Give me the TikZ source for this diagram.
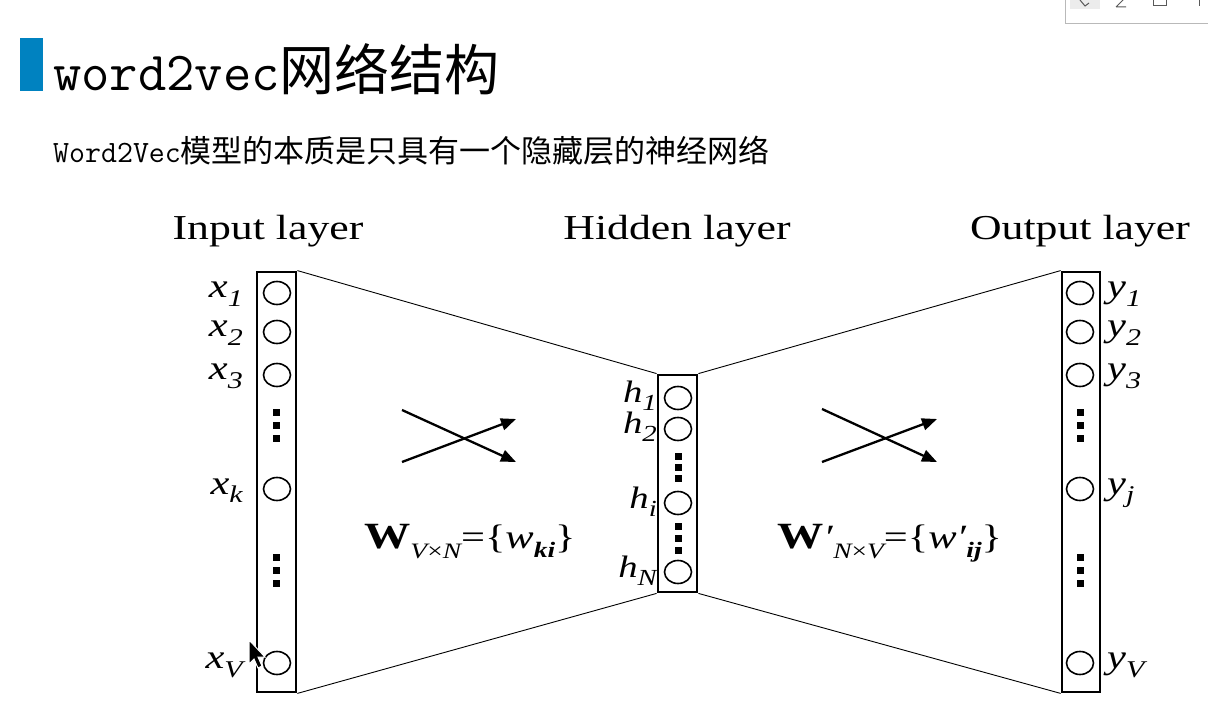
\documentclass[tikz,border=0pt]{standalone}
\usepackage{fontspec}
\setmainfont{Liberation Serif}
\newfontfamily\cjk{Noto Sans CJK SC}
\newfontfamily\tmono{Latin Modern Mono}
\newfontfamily\figf[FakeStretch=1.25]{Liberation Serif}
\usetikzlibrary{shapes.geometric,arrows.meta}
\definecolor{barblue}{RGB}{0,130,192}
\newcommand{\lab}[2]{{\figf\itshape\fontsize{34}{34}\selectfont #1\raisebox{-9pt}{\fontsize{24}{24}\selectfont #2}}}
\newcommand{\hlab}[2]{{\figf\itshape\fontsize{31}{31}\selectfont #1\raisebox{-8pt}{\fontsize{23}{23}\selectfont #2}}}
\tikzset{
  neuron/.style={ellipse,draw,line width=1.6pt,minimum width=27pt,minimum height=23pt,inner sep=0pt},
  layerbox/.style={rectangle,draw,line width=2.8pt,inner sep=0pt},
  sqdot/.style={rectangle,fill=black,minimum size=7pt,inner sep=0pt},
  link/.style={line width=0.9pt},
  wts/.style={line width=2.3pt,-{Triangle[length=15pt,width=12pt]}},
  heading/.style={font=\figf\fontsize{35}{35}\selectfont,anchor=base},
}
\begin{document}
\begin{tikzpicture}[x=1pt,y=-1pt]
\useasboundingbox (0,0) rectangle (1208,708);
\fill[white] (0,0) rectangle (1208,708);
% toolbar
\draw[gray!55,fill=white,line width=1pt] (1065,-3) rectangle (1212,24);
\fill[gray!15] (1070,-3) rectangle (1100,9);
\draw[gray!70!black,line width=1pt] (1080,0) -- (1085,6) -- (1089,3);
\draw[gray!70!black,line width=1pt] (1116,7) -- (1126,7) (1116,7) -- (1124,-1);
\draw[gray!70!black,line width=1pt] (1153,-2) rectangle (1166,6);
\draw[gray!70!black,line width=1pt] (1199,-2) -- (1199,6);
% title
\fill[barblue] (20,38) rectangle (43,91);
\node[anchor=base west,inner sep=0pt] (title) at (53,91) {\fontsize{55}{55}\selectfont\tmono word2vec\cjk 网络结构};
\node[anchor=base west,inner sep=0pt] (sub) at (53,163) {\fontsize{31}{31}\selectfont\tmono Word2Vec\cjk 模型的本质是只具有一个隐藏层的神经网络};
% headings
\node[heading] (hin) at (268,240) {Input layer};
\node[heading] (hhid) at (677,240) {Hidden layer};
\node[heading] (hout) at (1080,240) {Output layer};
% layer boxes
\node[layerbox,minimum width=39pt,minimum height=420pt] (inp) at (276.5,482) {};
\node[layerbox,minimum width=39pt,minimum height=217pt] (hid) at (677.5,483.5) {};
\node[layerbox,minimum width=38pt,minimum height=420pt] (out) at (1081,482) {};
% links
\draw[link] (inp.north east) -- (hid.north west);
\draw[link] (inp.south east) -- (hid.south west);
\draw[link] (hid.north east) -- (out.north west);
\draw[link] (hid.south east) -- (out.south west);
% input neurons
\node[neuron] (x1) at (277,293) {};
\node[neuron] (x2) at (277,332) {};
\node[neuron] (x3) at (277,375) {};
\node[neuron] (xk) at (277,489) {};
\node[neuron] (xV) at (277,663) {};
\foreach \y [count=\i] in {413,426,439,557,570,583} \node[sqdot] (xd\i) at (276,\y) {};
\node[anchor=base east,inner sep=0pt] (lx1) at (243,298) {\lab{x}{1}};
\node[anchor=base east,inner sep=0pt] (lx2) at (243,337) {\lab{x}{2}};
\node[anchor=base east,inner sep=0pt] (lx3) at (243,380) {\lab{x}{3}};
\node[anchor=base east,inner sep=0pt] (lxk) at (243,494) {\lab{x}{k}};
\node[anchor=base east,inner sep=0pt] (lxV) at (243,668) {\lab{x}{V}};
% hidden neurons
\node[neuron] (h1) at (678,398) {};
\node[neuron] (h2) at (678,429) {};
\node[neuron] (hi) at (678,503) {};
\node[neuron] (hN) at (678,572) {};
\foreach \y [count=\i] in {457,468,479,526,538,550} \node[sqdot] (hd\i) at (678,\y) {};
\node[anchor=base east,inner sep=0pt] (lh1) at (657,403) {\hlab{h}{1}};
\node[anchor=base east,inner sep=0pt] (lh2) at (657,434) {\hlab{h}{2}};
\node[anchor=base east,inner sep=0pt] (lhi) at (657,508) {\hlab{h}{i}};
\node[anchor=base east,inner sep=0pt] (lhN) at (657,577) {\hlab{h}{N}};
% output neurons
\node[neuron] (y1) at (1080,293) {};
\node[neuron] (y2) at (1080,332) {};
\node[neuron] (y3) at (1080,375) {};
\node[neuron] (yj) at (1080,489) {};
\node[neuron] (yV) at (1080,663) {};
\foreach \y [count=\i] in {413,426,439,557,570,583} \node[sqdot] (yd\i) at (1080,\y) {};
\node[anchor=base west,inner sep=0pt] (ly1) at (1107,298) {\lab{y}{1}};
\node[anchor=base west,inner sep=0pt] (ly2) at (1107,337) {\lab{y}{2}};
\node[anchor=base west,inner sep=0pt] (ly3) at (1107,380) {\lab{y}{3}};
\node[anchor=base west,inner sep=0pt] (lyj) at (1107,494) {\lab{y}{j}};
\node[anchor=base west,inner sep=0pt] (lyV) at (1107,668) {\lab{y}{V}};
% weight arrows
\coordinate (a1) at (402,410); \coordinate (a2) at (516,462);
\coordinate (a3) at (402,462); \coordinate (a4) at (516,419);
\draw[wts] (a1) -- (a2);
\draw[wts] (a3) -- (a4);
\coordinate (b1) at (822,409); \coordinate (b2) at (937,462);
\coordinate (b3) at (822,462); \coordinate (b4) at (937,419);
\draw[wts] (b1) -- (b2);
\draw[wts] (b3) -- (b4);
% weight labels
\node[anchor=base west,inner sep=0pt] (w1) at (364,548) {\figf\fontsize{34}{34}\selectfont{\fontsize{37}{37}\selectfont\textbf{W}}\raisebox{-10pt}{\fontsize{22}{22}\selectfont\itshape V\upshape×\itshape N}=\{\textit{w}\raisebox{-9pt}{\fontsize{22}{22}\selectfont\itshape\textbf{ki}}\}};
\node[anchor=base west,inner sep=0pt] (w2) at (777,548) {\figf\fontsize{34}{34}\selectfont{\fontsize{37}{37}\selectfont\textbf{W}}\textit{′}\raisebox{-10pt}{\fontsize{22}{22}\selectfont\itshape N\upshape×\itshape V}=\{\textit{w′}\raisebox{-9pt}{\fontsize{22}{22}\selectfont\itshape\textbf{ij}}\}};
% mouse cursor
\draw[white,fill=black,line width=1pt] (249,640) -- (249,664) -- (254,659) -- (258,668) -- (262,666) -- (258,657) -- (265,657) -- cycle;
\end{tikzpicture}
\end{document}
